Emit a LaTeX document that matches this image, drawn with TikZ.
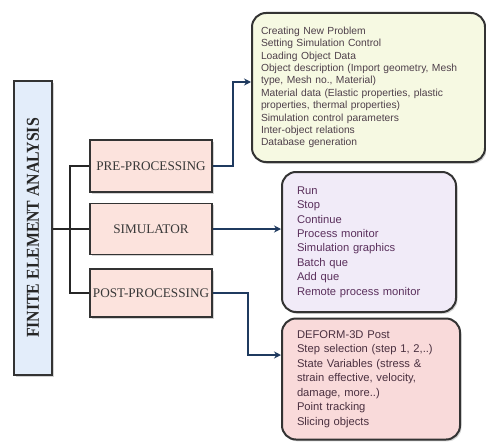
\documentclass[tikz,border=0pt]{standalone}
\usepackage{fontspec}
\setmainfont{Liberation Serif}
\newfontfamily\bodyfont{Liberation Sans}
\usetikzlibrary{arrows.meta,shadows}
\definecolor{feafill}{HTML}{E3EDFA}
\definecolor{rectfill}{HTML}{FCE3DD}
\definecolor{greenfill}{HTML}{F6F9E2}
\definecolor{purplefill}{HTML}{F1EBF8}
\definecolor{pinkfill}{HTML}{F9DADA}
\definecolor{edge}{HTML}{333333}
\definecolor{navy}{HTML}{1F3A5F}
\definecolor{gtext}{HTML}{4E3F4A}
\definecolor{ptext}{HTML}{5A2F5C}
\definecolor{ktext}{HTML}{4A3040}
\tikzset{
  sh/.style={drop shadow={shadow xshift=1.5pt,shadow yshift=-1.8pt,opacity=0.35}},
  stagebox/.style={draw=edge,line width=1.7pt,fill=rectfill,sh,minimum width=122pt,
     inner sep=0pt,font=\fontsize{13.2}{15}\selectfont,text=black!78},
  listbox/.style={draw=edge,line width=2pt,rounded corners=14pt,sh,align=left,
     inner xsep=0pt,inner ysep=0pt,anchor=center},
  trunk/.style={line width=1.7pt,black!85},
  arr/.style={line width=1.8pt,navy,-{Stealth[length=7pt,width=7pt]}}
}
\begin{document}
\begin{tikzpicture}[x=1pt,y=1pt]
\useasboundingbox (0,0) rectangle (486,-441);
% left main box
\node[draw=edge,line width=1.7pt,fill=feafill,sh,minimum width=38pt,minimum height=294pt,inner sep=0pt]
  (fea) at (33,-228) {};
\node[rotate=90,yscale=1.15,font=\bfseries\fontsize{15.8}{18}\selectfont,text=black!85] (featext) at ([yshift=0pt]fea.center) {FINITE ELEMENT ANALYSIS};
% stage boxes
\node[stagebox,minimum height=52pt] (pre) at (151,-166) {PRE-PROCESSING};
\node[stagebox,minimum height=51pt] (sim) at (151,-229) {SIMULATOR};
\node[stagebox,minimum height=48pt] (post) at (151,-293) {POST-PROCESSING};
% trunk
\coordinate (tj) at (70,-229);
\draw[trunk] (fea.east |- tj) -- (tj);
\draw[trunk] (pre.west) -| (tj);
\draw[trunk] (tj) |- (post.west);
\draw[trunk] (tj) -- (sim.west);
% list boxes
\node[listbox,fill=greenfill,minimum width=233pt,minimum height=149pt,text width=215pt,
  font=\bodyfont\fontsize{10.3}{12.4}\selectfont,text=gtext] (green) at (368.5,-87.5) {%
Creating New Problem\\
Setting Simulation Control\\
Loading Object Data\\
Object description (Import geometry, Mesh\\
type, Mesh no., Material)\\
Material data (Elastic properties, plastic\\
properties, thermal properties)\\
Simulation control parameters\\
Inter-object relations\\
Database generation};
\node[listbox,fill=purplefill,minimum width=174pt,minimum height=140pt,text width=144pt,
  font=\bodyfont\fontsize{11.2}{14.4}\selectfont,text=ptext] (purple) at (369,-242) {%
Run\\
Stop\\
Continue\\
Process monitor\\
Simulation graphics\\
Batch que\\
Add que\\
Remote process monitor};
\node[listbox,fill=pinkfill,minimum width=178pt,minimum height=121pt,text width=148pt,
  font=\bodyfont\fontsize{11.2}{14.5}\selectfont,text=ktext] (pink) at (371,-379) {%
DEFORM-3D Post\\
Step selection (step 1, 2,..)\\
State Variables (stress \&\\
strain effective, velocity,\\
damage, more..)\\
Point tracking\\
Slicing objects};
% arrows
\draw[arr] (pre.east) -- ++(20,0) |- ([yshift=5.5pt]green.west);
\draw[arr] (sim.east) -- (sim.east -| purple.west);
\draw[arr] (post.east) -- ++(35,0) |- ([yshift=24pt]pink.west);
\end{tikzpicture}
\end{document}
